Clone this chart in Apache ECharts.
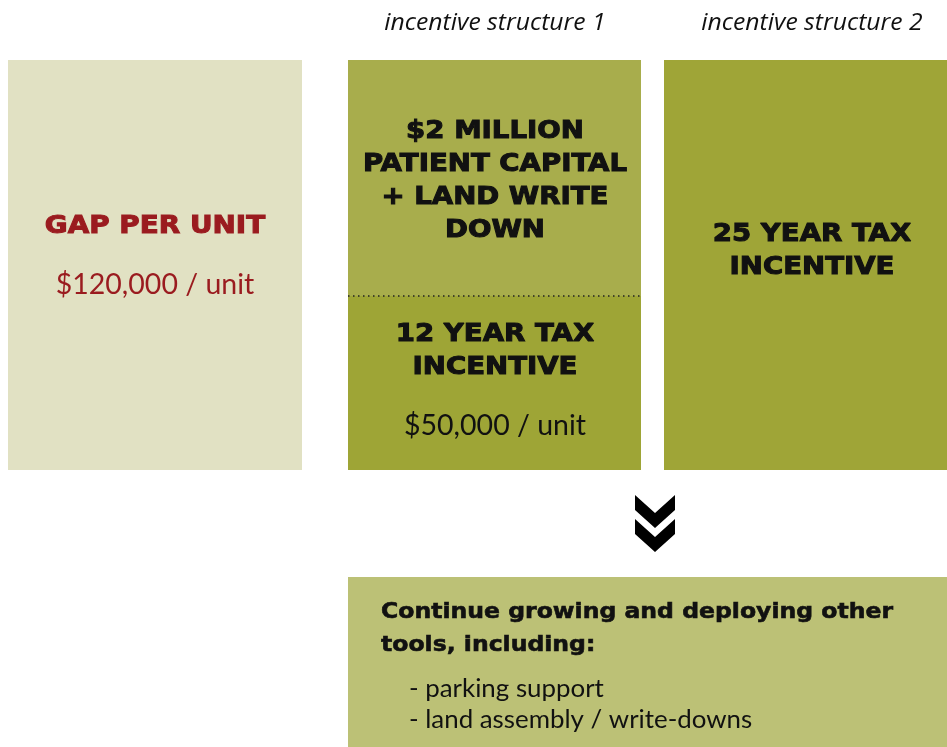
<!DOCTYPE html>
<html>
<head>
<meta charset="utf-8">
<script src="https://cdn.jsdelivr.net/npm/echarts@6/dist/echarts.min.js"></script>
<style>
html, body { margin: 0; padding: 0; background: #fff; }
#chart { width: 947px; height: 747px; }
</style>
</head>
<body>
<div id="chart"></div>
<script>
// boxes of the diagram, in the page's own units (x right, y down)
var boxNames = ['gap', 'structure1Top', 'structure1Bottom', 'structure2', 'nextSteps'];
var boxLeft = [8, 348, 348, 664, 348];
var boxRight = [302, 641, 641, 947, 947];
var boxTop = [60, 60, 296, 60, 577];
var boxBottom = [470, 296, 470, 470, 747];

// texts and their anchor points
var labelTexts = [
  'incentive structure 1', 'incentive structure 2',
  'GAP PER UNIT', '$120,000 / unit',
  '$2 MILLION\nPATIENT CAPITAL\n+ LAND WRITE\nDOWN',
  '12 YEAR TAX\nINCENTIVE', '$50,000 / unit',
  '25 YEAR TAX\nINCENTIVE',
  'Continue growing and deploying other\ntools, including:',
  '- parking support\n- land assembly / write-downs'
];
var labelX = [495, 812, 155, 155, 495, 495, 495, 812, 381, 409];
var labelY = [23, 23, 227, 285, 181, 351, 426, 251, 629, 704];
var labelKind = ['header', 'header', 'redHead', 'redValue', 'head', 'head', 'value', 'head', 'boldLeft', 'plainLeft'];

// divider inside structure 1
var dividerX = [348, 641];
var dividerY = [296, 296];

// down chevrons (one per arrow head)
var chevronTop = [495, 519];
var chevronX = 655;

var boxColors = {
  gap: '#e1e1c3',
  structure1Top: '#a8ad4c',
  structure1Bottom: '#9ea536',
  structure2: '#9fa537',
  nextSteps: '#bcc176'
};

var italicFont = '"Open Sans", Lato, sans-serif';
var plainFont = 'Lato, "Open Sans", sans-serif';
var heavyFont = '"DejaVu Sans", sans-serif';
// scaleX widens the fonts we have toward the wide Gill Sans of the original,
// stroke thickens the bold ones a little
var labelStyles = {
  header: { font: italicFont, fontSize: 24, fontStyle: 'italic', fontWeight: 'normal', fill: '#111', align: 'center', lineHeight: 26, scaleX: 1.03, stroke: 0 },
  redHead: { font: heavyFont, fontSize: 24, fontWeight: 'bold', fill: '#9a1b1f', align: 'center', lineHeight: 30, scaleX: 1.16, stroke: 1 },
  redValue: { font: plainFont, fontSize: 28.5, fontWeight: 'normal', fill: '#9a1b1f', align: 'center', lineHeight: 32, scaleX: 1, stroke: 0 },
  head: { font: heavyFont, fontSize: 24, fontWeight: 'bold', fill: '#111', align: 'center', lineHeight: 33, scaleX: 1.15, stroke: 1 },
  value: { font: plainFont, fontSize: 28.5, fontWeight: 'normal', fill: '#111', align: 'center', lineHeight: 32, scaleX: 1, stroke: 0 },
  boldLeft: { font: heavyFont, fontSize: 22, fontWeight: 'bold', fill: '#111', align: 'left', lineHeight: 33, scaleX: 1.07, stroke: 0.6 },
  plainLeft: { font: plainFont, fontSize: 25, fontWeight: 'normal', fill: '#111', align: 'left', lineHeight: 31, scaleX: 1.035, stroke: 0 }
};

var boxData = boxNames.map(function (n, i) {
  return [boxLeft[i], boxTop[i], boxRight[i], boxBottom[i], i];
});
var labelData = labelTexts.map(function (t, i) {
  return [labelX[i], labelY[i], i];
});
var chevronData = chevronTop.map(function (y) { return [chevronX, y]; });

var chart = echarts.init(document.getElementById('chart'));
chart.setOption({
  animation: false,
  grid: { left: 0, right: 0, top: 0, bottom: 0 },
  xAxis: { type: 'value', min: 0, max: 947, show: false },
  yAxis: { type: 'value', min: 0, max: 747, inverse: true, show: false },
  series: [
    {
      type: 'custom',
      name: 'boxes',
      data: boxData,
      renderItem: function (params, api) {
        var p0 = api.coord([api.value(0), api.value(1)]);
        var p1 = api.coord([api.value(2), api.value(3)]);
        var name = boxNames[api.value(4)];
        return {
          type: 'rect',
          shape: { x: p0[0], y: p0[1], width: p1[0] - p0[0], height: p1[1] - p0[1] },
          style: { fill: boxColors[name] }
        };
      }
    },
    {
      type: 'custom',
      name: 'divider',
      data: [[dividerX[0], dividerY[0], dividerX[1], dividerY[1]]],
      renderItem: function (params, api) {
        var p0 = api.coord([api.value(0), api.value(1)]);
        var p1 = api.coord([api.value(2), api.value(3)]);
        return {
          type: 'line',
          shape: { x1: p0[0], y1: p0[1], x2: p1[0], y2: p1[1] },
          style: { stroke: '#222', lineWidth: 1.5, lineDash: [1.5, 3.5] }
        };
      }
    },
    {
      type: 'custom',
      name: 'chevrons',
      data: chevronData,
      renderItem: function (params, api) {
        var cx = api.value(0), top = api.value(1);
        var pts = [
          [cx - 20, top], [cx, top + 18], [cx + 20, top],
          [cx + 20, top + 15], [cx, top + 33], [cx - 20, top + 15]
        ].map(function (p) { return api.coord(p); });
        return { type: 'polygon', shape: { points: pts }, style: { fill: '#000' } };
      }
    },
    {
      type: 'custom',
      name: 'labels',
      data: labelData,
      renderItem: function (params, api) {
        var p = api.coord([api.value(0), api.value(1)]);
        var idx = api.value(2);
        var s = labelStyles[labelKind[idx]];
        var style = {
          text: labelTexts[idx],
          fill: s.fill,
          fontSize: s.fontSize,
          fontWeight: s.fontWeight,
          fontStyle: s.fontStyle || 'normal',
          fontFamily: s.font,
          lineHeight: s.lineHeight,
          align: s.align,
          verticalAlign: 'middle'
        };
        if (s.stroke) {
          style.stroke = s.fill;
          style.lineWidth = s.stroke;
        }
        return { type: 'text', x: p[0], y: p[1], scaleX: s.scaleX, style: style };
      }
    }
  ]
});
</script>
</body>
</html>
